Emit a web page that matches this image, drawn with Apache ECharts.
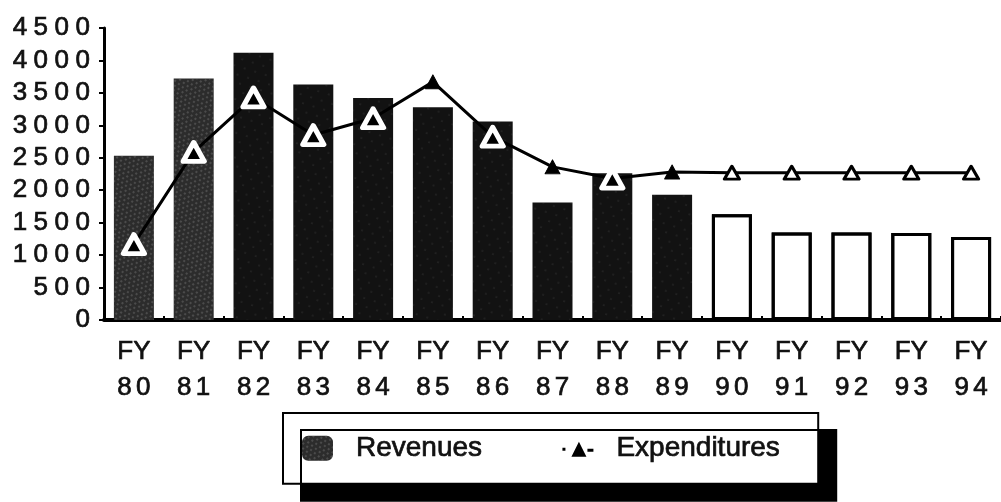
<!DOCTYPE html>
<html>
<head>
<meta charset="utf-8">
<script src="https://cdn.jsdelivr.net/npm/echarts@6/dist/echarts.min.js"></script>
<style>
  html, body { margin: 0; padding: 0; background: #ffffff; }
  #chart { width: 1001px; height: 502px; }
</style>
</head>
<body>
<div id="chart"></div>
<script>
// Fiscal years shown on the category axis
const years = ['80', '81', '82', '83', '84', '85', '86', '87', '88', '89', '90', '91', '92', '93', '94'];
// Revenues per fiscal year
const revenues = [2530, 3720, 4120, 3630, 3420, 3280, 3060, 1810, 2260, 1930, 1630, 1350, 1350, 1340, 1280];
// Expenditures per fiscal year
const expenditures = [1170, 2590, 3430, 2850, 3110, 3670, 2825, 2360, 2180, 2280, 2270, 2270, 2270, 2270, 2270];
// Value axis range and step
const yMin = 0;
const yMax = 4500;
const yStep = 500;
// First year drawn as a projection (open bars)
const firstProjectedYear = '90';

const FONT = '"Liberation Sans", Arial, Helvetica, sans-serif';
const INK = '#111111';
const projectedFrom = years.indexOf(firstProjectedYear);

// Spread digits apart the way the printed labels are set
const spaced = (s, gap) => String(s).split('').join(gap);

// Stippled fills for the revenue bars
const greyStipple = {
  symbol: 'rect',
  symbolSize: 0.7,
  color: 'rgba(165,165,165,0.5)',
  dashArrayX: [[2, 3], [0, 3, 2, 0]],
  dashArrayY: [2, 2],
  rotation: 0.7
};
const darkStipple = {
  symbol: 'circle',
  symbolSize: 0.6,
  color: 'rgba(190,190,190,0.35)',
  dashArrayX: [[2, 9], [0, 6, 2, 3]],
  dashArrayY: [2, 6],
  rotation: 0.3
};
const noStipple = { color: 'rgba(0,0,0,0)' };

const barData = revenues.map((v, i) => {
  if (i >= projectedFrom) {
    return { value: v, itemStyle: { color: '#ffffff', borderColor: '#000000', borderWidth: 3, decal: noStipple } };
  }
  if (i < 2) {
    return { value: v, itemStyle: { color: '#2c2c2c', decal: greyStipple } };
  }
  return { value: v, itemStyle: { color: '#121212', decal: darkStipple } };
});

// Markers: haloed where they sit on a solid bar, small solid above it, open on projected years
const lineData = expenditures.map((v, i) => {
  if (i >= projectedFrom) {
    return {
      value: v, symbol: 'triangle', symbolSize: [15, 13],
      itemStyle: { color: '#ffffff', borderColor: '#000000', borderWidth: 3, borderJoin: 'round' }
    };
  }
  if (v < revenues[i]) {
    return {
      value: v, symbol: 'triangle', symbolSize: [21, 19],
      itemStyle: { color: '#000000', borderColor: '#ffffff', borderWidth: 5, borderJoin: 'round' }
    };
  }
  return {
    value: v, symbol: 'triangle', symbolSize: [15, 14],
    itemStyle: { color: '#000000', borderColor: '#000000', borderWidth: 1, borderJoin: 'round' }
  };
});

// Shared look of the printed labels
const labelInk = { color: INK, fontFamily: FONT, textBorderColor: INK, textBorderWidth: 0.7 };

const chart = echarts.init(document.getElementById('chart'), null, { renderer: 'canvas' });

chart.setOption({
  animation: false,
  backgroundColor: '#ffffff',
  grid: { left: 104, right: -7, top: 28, bottom: 182, containLabel: false },
  xAxis: {
    type: 'category',
    data: years,
    boundaryGap: true,
    axisLine: { show: true, lineStyle: { color: '#000000', width: 4 } },
    axisTick: { show: true, inside: true, length: 4, lineStyle: { color: '#000000', width: 2 } },
    axisLabel: Object.assign({
      interval: 0,
      margin: 14,
      fontSize: 26,
      lineHeight: 36,
      formatter: (y) => 'FY\n' + spaced(y, '\u2006')
    }, labelInk),
    splitLine: { show: false }
  },
  yAxis: {
    type: 'value',
    min: yMin,
    max: yMax,
    interval: yStep,
    axisLine: { show: true, lineStyle: { color: '#000000', width: 3 } },
    axisTick: { show: true, length: 5, lineStyle: { color: '#000000', width: 2 } },
    axisLabel: Object.assign({
      margin: 14,
      fontSize: 26,
      formatter: (v) => spaced(v, '\u2005')
    }, labelInk),
    splitLine: { show: false }
  },
  legend: {
    left: 283,
    top: 413,
    orient: 'horizontal',
    padding: [21, 38, 21, 19],
    itemGap: 80,
    itemWidth: 31,
    itemHeight: 25,
    backgroundColor: '#ffffff',
    borderColor: '#000000',
    borderWidth: 2,
    borderRadius: 0,
    shadowColor: '#000000',
    shadowBlur: 0,
    shadowOffsetX: 18,
    shadowOffsetY: 17,
    selectedMode: false,
    textStyle: Object.assign({ fontSize: 28, padding: [0, 0, 0, 18] }, labelInk),
    data: [
      { name: 'Revenues' },
      {
        name: 'Expenditures',
        icon: 'path://M0,0h0.01v0.01h-0.01z M0,12h3v3h-3z M9,21L16.5,6L24,21z M25,13h6v3h-6z M31,25h0.01v0.01h-0.01z'
      }
    ]
  },
  series: [
    {
      name: 'Revenues',
      type: 'bar',
      barWidth: 40,
      data: barData,
      itemStyle: { color: '#2c2c2c', decal: greyStipple },
      z: 2
    },
    {
      name: 'Expenditures',
      type: 'line',
      data: lineData,
      symbol: 'triangle',
      symbolSize: 15,
      showAllSymbol: true,
      lineStyle: { color: '#000000', width: 3 },
      itemStyle: { color: '#000000' },
      z: 3
    }
  ]
});
</script>
</body>
</html>
